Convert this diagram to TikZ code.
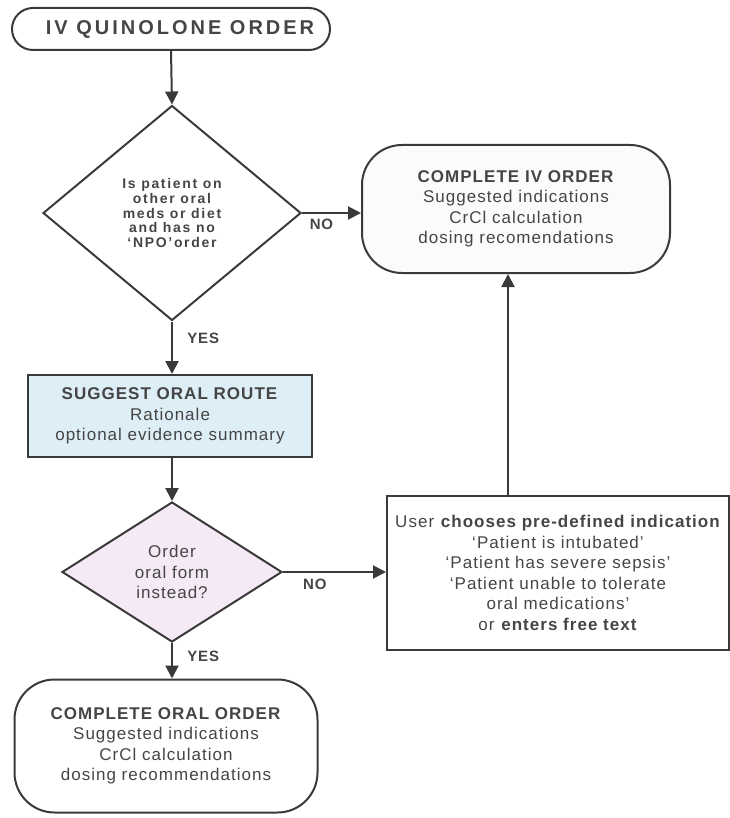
\documentclass[tikz,border=0pt]{standalone}
\usepackage{fontspec}
\setmainfont{Liberation Sans}[LetterSpace=6]
\usetikzlibrary{shapes.geometric,arrows.meta}
\definecolor{ink}{HTML}{3A3A3A}
\definecolor{txt}{HTML}{454545}
\definecolor{routeblue}{HTML}{DDEEF7}
\definecolor{askpink}{HTML}{F4E9F5}
\definecolor{ivfill}{HTML}{F9FBFC}
\begin{document}
\begin{tikzpicture}[x=1pt,y=-1pt,
  box/.style={draw=ink, line width=2pt, text=txt, align=center, inner sep=0pt,
    font=\fontsize{17}{20.5}\selectfont},
  ask/.style={box, diamond},
  arr/.style={draw=ink, line width=2pt, -{Triangle[length=13pt,width=13pt]}},
  lbl/.style={text=txt, font=\fontsize{15}{15}\selectfont\bfseries}]
\useasboundingbox (0,0) rectangle (729,818);

\node[box, rounded corners=21pt, minimum width=318pt, minimum height=42pt,
  font=\fontsize{20}{24}\selectfont\bfseries\addfontfeature{LetterSpace=15}] (start) at (171,29) {\hspace*{18pt}IV QUINOLONE ORDER};
\node[ask, minimum width=258pt, minimum height=215pt,
  font=\fontsize{14}{14.7}\selectfont\bfseries\addfontfeature{LetterSpace=12}] (qdiet) at (172,213)
  {Is patient on\\other oral\\meds or diet\\and has no\\`NPO'order};
\node[box, fill=ivfill, rounded corners=40pt, minimum width=308pt, minimum height=128pt] (ivdone) at (516,209)
  {\textbf{COMPLETE IV ORDER}\\Suggested indications\\CrCl calculation\\dosing recomendations};
\node[box, fill=routeblue, minimum width=284pt, minimum height=82pt] (oralroute) at (170,416)
  {\textbf{SUGGEST ORAL ROUTE}\\Rationale\\optional evidence summary};
\node[ask, fill=askpink, minimum width=220pt, minimum height=140pt] (qorder) at (172,572)
  {Order\\oral form\\instead?};
\node[box, minimum width=342pt, minimum height=154pt] (reason) at (558,573)
  {User \textbf{chooses pre-defined indication}\\`Patient is intubated'\\`Patient has severe sepsis'\\`Patient unable to tolerate\\oral medications'\\or \textbf{enters free text}};
\node[box, rounded corners=40pt, minimum width=303pt, minimum height=133pt] (oraldone) at (166,746)
  {\textbf{COMPLETE ORAL ORDER}\\Suggested indications\\CrCl calculation\\dosing recommendations};

\draw[arr] (start.south) -- (qdiet.north);
\draw[arr] (qdiet.east) -- (qdiet.east -| ivdone.west) node[lbl, pos=0.33, below=2pt] {NO};
\draw[arr] (qdiet.south) -- (qdiet.south |- oralroute.north) node[lbl, pos=0.33, right=11pt] {YES};
\draw[arr] (oralroute.south -| qorder.north) -- (qorder.north);
\draw[arr] (qorder.east) -- (qorder.east -| reason.west) node[lbl, pos=0.31, below=3pt] {NO};
\draw[arr] (qorder.south) -- (qorder.south |- oraldone.north) node[lbl, pos=0.37, right=11pt] {YES};
\draw[arr] ([xshift=-50pt]reason.north) -- ([xshift=-50pt]reason.north |- ivdone.south);

\end{tikzpicture}
\end{document}
